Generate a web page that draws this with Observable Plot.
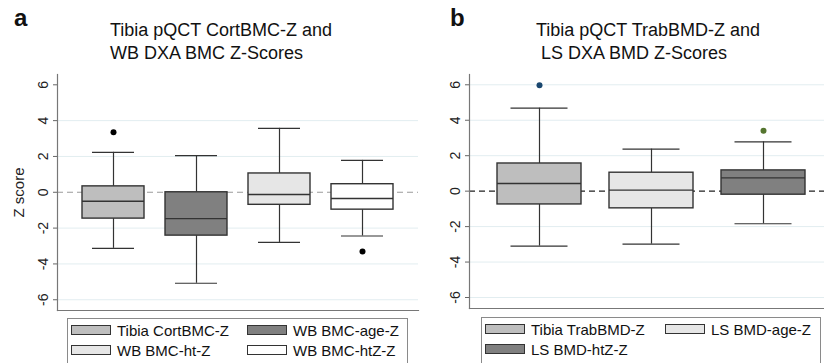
<!DOCTYPE html>
<html>
<head>
<meta charset="utf-8">
<script src="https://cdn.jsdelivr.net/npm/d3@7"></script>
<script src="https://cdn.jsdelivr.net/npm/@observablehq/plot@0.6"></script>
<style>
  html, body { margin: 0; padding: 0; background: #fff; }
  #root { position: relative; width: 824px; height: 363px; overflow: hidden; background: #fff;
          font-family: "Liberation Sans", Arial, Helvetica, sans-serif; color: #111; }
  .abs { position: absolute; }
  .plot { position: absolute; top: 0; }
  .legend { position: absolute; border: 1px solid #8a8a8a; box-sizing: border-box; background: #fff; }
  .sw { position: absolute; width: 40px; height: 10px; border: 1px solid #333; box-sizing: border-box; }
  .lt { position: absolute; font-size: 15px; line-height: 15px; white-space: nowrap; }
  svg text { font-family: "Liberation Sans", Arial, Helvetica, sans-serif; }
</style>
</head>
<body>
<div id="root"></div>
<script>
// ---------- Data ----------
// Panel a
const titleA = ["Tibia pQCT CortBMC-Z and", "WB DXA BMC Z-Scores"];
const catsA = ["Tibia CortBMC-Z", "WB BMC-age-Z", "WB BMC-ht-Z", "WB BMC-htZ-Z"];
const loA  = [-3.13, -5.08, -2.80, -2.44];
const q1A  = [-1.47, -2.42, -0.70, -0.97];
const medA = [-0.50, -1.47, -0.12, -0.35];
const q3A  = [ 0.33,  0.00,  1.05,  0.45];
const hiA  = [ 2.23,  2.05,  3.57,  1.78];
const outCatA = ["Tibia CortBMC-Z", "WB BMC-htZ-Z"];
const outValA = [3.35, -3.30];

// Panel b
const titleB = ["Tibia pQCT TrabBMD-Z and", " LS DXA BMD Z-Scores"];
const catsB = ["Tibia TrabBMD-Z", "LS BMD-age-Z", "LS BMD-htZ-Z"];
const loB  = [-3.10, -2.99, -1.84];
const q1B  = [-0.75, -0.97, -0.20];
const medB = [ 0.43,  0.06,  0.75];
const q3B  = [ 1.56,  1.04,  1.17];
const hiB  = [ 4.68,  2.37,  2.78];
const outCatB = ["Tibia TrabBMD-Z", "LS BMD-htZ-Z"];
const outValB = [5.97, 3.40];

const yTicks = [-6, -4, -2, 0, 2, 4, 6];

// ---------- Styles ----------
const fillsA = ["#bebebe", "#808080", "#e6e6e6", "#ffffff"];
const fillsB = ["#bebebe", "#e6e6e6", "#808080"];
const outColorsA = ["#000000", "#000000"];
const outColorsB = ["#1a476f", "#55752f"];

const root = document.getElementById("root");

function panel(cfg) {
  const boxes = cfg.cats.map((c, i) => ({cat: c, lo: cfg.lo[i], q1: cfg.q1[i], med: cfg.med[i], q3: cfg.q3[i], hi: cfg.hi[i]}));
  const outs = cfg.outCat.map((c, i) => ({cat: c, v: cfg.outVal[i], col: cfg.outColors[i]}));
  const stroke = "#333";
  const marks = [
    Plot.gridY(cfg.grid, {stroke: "#e2edf0", strokeOpacity: 1, strokeWidth: 1}),
    Plot.ruleY([0], {stroke: cfg.zeroColor, strokeDasharray: "6,4", strokeWidth: 1.1}),
    Plot.ruleX(boxes, {x: "cat", y1: "q3", y2: "hi", stroke, strokeWidth: 1.2}),
    Plot.ruleX(boxes, {x: "cat", y1: "lo", y2: "q1", stroke, strokeWidth: 1.2}),
    Plot.tickY(boxes, {x: "cat", y: "hi", stroke, strokeWidth: 1.2, insetLeft: cfg.capInset, insetRight: cfg.capInset}),
    Plot.tickY(boxes, {x: "cat", y: "lo", stroke, strokeWidth: 1.2, insetLeft: cfg.capInset, insetRight: cfg.capInset}),
    Plot.barY(boxes, {x: "cat", y1: "q1", y2: "q3", fill: "cat", stroke, strokeWidth: 1.4}),
    Plot.tickY(boxes, {x: "cat", y: "med", stroke, strokeWidth: 1.4}),
    Plot.dot(outs, {x: "cat", y: "v", r: 3, fill: d => d.col, stroke: "none"}),
    Plot.frame({anchor: "left", stroke: "#777", strokeWidth: 1.2}),
    Plot.frame({anchor: "bottom", stroke: "#777", strokeWidth: 1.2}),
    Plot.axisY(yTicks, {tickSize: 4, tickFormat: () => "", stroke: "#666"}),
    Plot.text(yTicks, {y: d => d, text: d => String(d), frameAnchor: "left", rotate: -90, dx: -14,
                       fontSize: 14, fill: "#222", textAnchor: "middle", lineAnchor: "middle"})
  ];
  if (cfg.ylabel) {
    marks.push(Plot.text([cfg.ylabel], {frameAnchor: "left", rotate: -90, dx: -38, fontSize: 15,
                                        fill: "#222", textAnchor: "middle", lineAnchor: "middle"}));
  }
  const chart = Plot.plot({
    width: cfg.width, height: cfg.height,
    marginLeft: 57, marginRight: 0, marginTop: 74, marginBottom: cfg.height - cfg.bottom,
    style: {background: "transparent", overflow: "visible"},
    x: {domain: cfg.cats, paddingInner: cfg.pi, paddingOuter: cfg.po, axis: null},
    y: {domain: cfg.ydom, axis: null},
    color: {domain: cfg.cats, range: cfg.fills},
    marks
  });
  chart.classList.add("plot");
  chart.style.left = cfg.left + "px";
  root.appendChild(chart);

  // panel letter
  const L = document.createElement("div");
  L.className = "abs";
  L.textContent = cfg.letter;
  L.style.cssText = `left:${cfg.letterX}px; top:${28 - 24}px; font-size:24px; font-weight:bold; line-height:24px; height:24px;`;
  L.style.top = (28 - 22) + "px";
  root.appendChild(L);

  // title
  cfg.title.forEach((t, i) => {
    const d = document.createElement("div");
    d.className = "abs";
    d.style.cssText = `left:${cfg.titleX}px; font-size:18px; line-height:18px; white-space:pre;`;
    d.style.top = (37 + i * 23 - 16) + "px";
    d.textContent = t;
    root.appendChild(d);
  });

  // legend
  const lg = document.createElement("div");
  lg.className = "legend";
  lg.style.left = cfg.legend.x + "px";
  lg.style.top = cfg.legend.y + "px";
  lg.style.width = cfg.legend.w + "px";
  lg.style.height = cfg.legend.h + "px";
  root.appendChild(lg);
  cfg.cats.forEach((c, i) => {
    const col = i % 2, row = Math.floor(i / 2);
    const sx = cfg.legend.colX[col], sy = cfg.legend.rowY[row];
    const sw = document.createElement("div");
    sw.className = "sw";
    sw.style.left = sx + "px";
    sw.style.top = sy + "px";
    sw.style.background = cfg.fills[i];
    root.appendChild(sw);
    const tx = document.createElement("div");
    tx.className = "lt";
    tx.style.left = (sx + 46) + "px";
    tx.style.top = (sy - 2) + "px";
    tx.textContent = c;
    root.appendChild(tx);
  });
}

panel({
  cats: catsA, lo: loA, q1: q1A, med: medA, q3: q3A, hi: hiA,
  outCat: outCatA, outVal: outValA, outColors: outColorsA, fills: fillsA,
  grid: [4, 2, -2, -4, -6], zeroColor: "#9a9a9a",
  left: 0, width: 418, height: 330, bottom: 310,
  ydom: [-6.6, 6.575], pi: 0.247, po: 0.28, capInset: 10,
  ylabel: "Z score", letter: "a", letterX: 14, title: titleA, titleX: 110,
  legend: {x: 67, y: 318, w: 341, h: 46, colX: [71, 247], rowY: [325, 345]}
});

panel({
  cats: catsB, lo: loB, q1: q1B, med: medB, q3: q3B, hi: hiB,
  outCat: outCatB, outVal: outValB, outColors: outColorsB, fills: fillsB,
  grid: [6, 4, 2, -2, -4, -6], zeroColor: "#222",
  left: 412, width: 420, height: 330, bottom: 308,
  ydom: [-6.62, 6.58], pi: 0.253, po: 0.24, capInset: 13.5,
  ylabel: null, letter: "b", letterX: 450, title: titleB, titleX: 536,
  legend: {x: 481, y: 317, w: 340, h: 47, colX: [485, 665], rowY: [323.5, 343.5]}
});
</script>
</body>
</html>
